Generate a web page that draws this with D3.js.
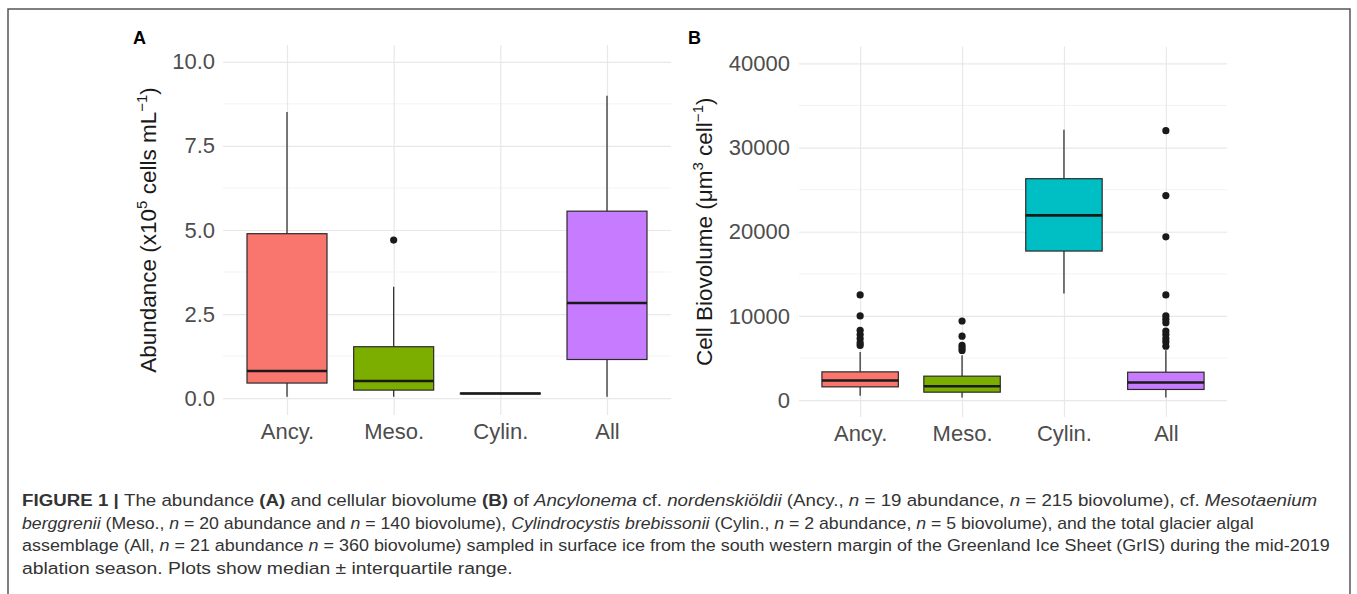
<!DOCTYPE html>
<html lang="en">
<head>
<meta charset="utf-8">
<title>Figure 1 - abundance and biovolume</title>
<style>
  body { margin: 0; background: #fff; }
  svg { display: block; font-family: "Liberation Sans", Arial, sans-serif; }
  .tick text { fill: #4d4d4d; font-size: 22px; }
  .caption { font-size: 17px; fill: #333; }
</style>
</head>
<body>
<svg id="fig" width="1357" height="594"></svg>
<script src="https://d3js.org/d3.v7.min.js"></script>
<script>
// categories and fill colours (ggplot default hue palette)
var categories = ["Ancy.", "Meso.", "Cylin.", "All"];
var fills = ["#F8766D", "#7CAE00", "#00BFC4", "#C77CFF"];

// A: abundance (x10^5 cells mL-1) — whisker low, Q1, median, Q3, whisker high
var abundLow  = [0.04, 0.04, 0.13, 0.04];
var abundQ1   = [0.45, 0.24, 0.13, 1.15];
var abundMed  = [0.81, 0.51, 0.14, 2.83];
var abundQ3   = [4.89, 1.53, 0.15, 5.56];
var abundHigh = [8.51, 3.31, 0.15, 8.99];
var abundOut  = [[], [4.70], [], []];
var abundTicks = [0, 2.5, 5, 7.5, 10];
var abundMinor = [1.25, 3.75, 6.25, 8.75];

// B: cell biovolume (um3 cell-1)
var bioLow  = [510, 320, 12660, 320];
var bioQ1   = [1580, 950, 17710, 1270];
var bioMed  = [2340, 1660, 21950, 2100];
var bioQ3   = [3360, 2850, 26300, 3320];
var bioHigh = [5730, 5340, 32100, 5930];
var bioOut  = [
  [12500, 10000, 8300, 7800, 7300, 6800, 6500],
  [9400, 7600, 6500, 6200, 5900],
  [],
  [32000, 24300, 19400, 12500, 10000, 9600, 9200, 8200, 7800, 7300, 6900, 6400]
];
var bioTicks = [0, 10000, 20000, 30000, 40000];
var bioMinor = [5000, 15000, 25000, 35000];

var svg = d3.select("#fig");

// figure frame
svg.append("rect")
  .attr("x", 8).attr("y", 9).attr("width", 1342).attr("height", 620)
  .attr("fill", "none").attr("stroke", "#555").attr("stroke-width", 1.5);

function panel(opt) {
  var g = svg.append("g");
  var x = d3.scalePoint().domain(categories)
    .range([opt.left, opt.right]).padding(0.6);
  var y = d3.scaleLinear().domain(opt.domain).range([opt.bottom, opt.top]);
  var w = opt.right - opt.left;
  var bw = x.step() * 0.75;

  // minor grid
  g.selectAll(".minor").data(opt.minor).enter().append("line")
    .attr("x1", opt.left).attr("x2", opt.right)
    .attr("y1", d => y(d)).attr("y2", d => y(d))
    .attr("stroke", "#f0f0f0").attr("stroke-width", 0.8);

  // major grid (y)
  g.append("g").attr("transform", "translate(" + opt.left + ",0)")
    .call(d3.axisLeft(y).tickValues(opt.ticks).tickSize(-w).tickFormat(""))
    .call(s => s.select(".domain").remove())
    .call(s => s.selectAll("line").attr("stroke", "#e8e8e8").attr("stroke-width", 1.2));

  // major grid (x)
  g.append("g").attr("transform", "translate(0," + opt.bottom + ")")
    .call(d3.axisBottom(x).tickSize(-(opt.bottom - opt.top)).tickFormat(""))
    .call(s => s.select(".domain").remove())
    .call(s => s.selectAll("line").attr("stroke", "#e8e8e8").attr("stroke-width", 1.2));

  // y tick labels
  g.append("g").attr("transform", "translate(" + opt.left + ",0)")
    .call(d3.axisLeft(y).tickValues(opt.ticks).tickSize(0).tickPadding(opt.pad)
      .tickFormat(opt.fmt))
    .call(s => s.select(".domain").remove())
    .call(s => s.selectAll("text").attr("font-family", "Liberation Sans, Arial, sans-serif"));

  // x tick labels
  g.append("g").attr("transform", "translate(0," + opt.bottom + ")")
    .call(d3.axisBottom(x).tickSize(0).tickPadding(8))
    .call(s => s.select(".domain").remove())
    .call(s => s.selectAll("text").attr("font-family", "Liberation Sans, Arial, sans-serif"));

  var boxes = g.selectAll(".box").data(categories).enter().append("g");

  // whiskers
  boxes.append("line")
    .attr("x1", d => x(d)).attr("x2", d => x(d))
    .attr("y1", (d, i) => y(opt.low[i])).attr("y2", (d, i) => y(opt.q1[i]))
    .attr("stroke", "#333").attr("stroke-width", 1.3);
  boxes.append("line")
    .attr("x1", d => x(d)).attr("x2", d => x(d))
    .attr("y1", (d, i) => y(opt.q3[i])).attr("y2", (d, i) => y(opt.high[i]))
    .attr("stroke", "#333").attr("stroke-width", 1.3);

  // box
  boxes.append("rect")
    .attr("x", d => x(d) - bw / 2).attr("width", bw)
    .attr("y", (d, i) => y(opt.q3[i]))
    .attr("height", (d, i) => y(opt.q1[i]) - y(opt.q3[i]))
    .attr("fill", (d, i) => fills[i])
    .attr("stroke", "#2a2a2a").attr("stroke-width", 1.2);

  // median
  boxes.append("line")
    .attr("x1", d => x(d) - bw / 2).attr("x2", d => x(d) + bw / 2)
    .attr("y1", (d, i) => y(opt.med[i])).attr("y2", (d, i) => y(opt.med[i]))
    .attr("stroke", "#1a1a1a").attr("stroke-width", 2.6);

  // outliers
  boxes.each(function(d, i) {
    d3.select(this).selectAll("circle").data(opt.out[i]).enter().append("circle")
      .attr("cx", x(d)).attr("cy", v => y(v)).attr("r", 3.6)
      .attr("fill", "#1a1a1a");
  });

  // panel letter
  svg.append("text").attr("x", opt.letterX).attr("y", 44)
    .attr("font-size", 18).attr("font-weight", "bold").attr("fill", "#000")
    .text(opt.letter);

  // y title
  var t = svg.append("text")
    .attr("transform", "translate(" + opt.titleX + "," + ((opt.top + opt.bottom) / 2) + ") rotate(-90)")
    .attr("text-anchor", "middle").attr("font-size", 22.5).attr("fill", "#1a1a1a");
  opt.title(t);
}

panel({
  left: 223, right: 671, top: 45, bottom: 415,
  domain: [-0.5, 10.5], ticks: abundTicks, minor: abundMinor,
  fmt: d3.format(".1f"), pad: 8,
  low: abundLow, q1: abundQ1, med: abundMed, q3: abundQ3, high: abundHigh, out: abundOut,
  letter: "A", letterX: 133, titleX: 156,
  title: function(t) {
    t.append("tspan").text("Abundance (x10");
    t.append("tspan").attr("dy", -9).attr("font-size", 15).text("5");
    t.append("tspan").attr("dy", 9).text(" cells mL");
    t.append("tspan").attr("dy", -9).attr("font-size", 15).text("\u22121");
    t.append("tspan").attr("dy", 9).text(")");
  }
});

panel({
  left: 799, right: 1227, top: 46.5, bottom: 417,
  domain: [-2000, 42000], ticks: bioTicks, minor: bioMinor,
  fmt: d3.format("d"), pad: 9,
  low: bioLow, q1: bioQ1, med: bioMed, q3: bioQ3, high: bioHigh, out: bioOut,
  letter: "B", letterX: 688, titleX: 712,
  title: function(t) {
    t.append("tspan").text("Cell Biovolume (\u03bcm");
    t.append("tspan").attr("dy", -9).attr("font-size", 15).text("3");
    t.append("tspan").attr("dy", 9).text(" cell");
    t.append("tspan").attr("dy", -9).attr("font-size", 15).text("\u22121");
    t.append("tspan").attr("dy", 9).text(")");
  }
});

// caption: each line is a list of [text, style] parts
var captionLines = [
  [["FIGURE 1 | ", "b"], ["The abundance ", ""], ["(A)", "b"], [" and cellular biovolume ", ""], ["(B)", "b"],
   [" of ", ""], ["Ancylonema", "i"], [" cf. ", ""], ["nordenskiöldii", "i"], [" (Ancy., ", ""], ["n", "i"],
   [" = 19 abundance, ", ""], ["n", "i"], [" = 215 biovolume), cf. ", ""], ["Mesotaenium", "i"]],
  [["berggrenii", "i"], [" (Meso., ", ""], ["n", "i"], [" = 20 abundance and ", ""], ["n", "i"],
   [" = 140 biovolume), ", ""], ["Cylindrocystis brebissonii", "i"], [" (Cylin., ", ""], ["n", "i"],
   [" = 2 abundance, ", ""], ["n", "i"], [" = 5 biovolume), and the total glacier algal", ""]],
  [["assemblage (All, ", ""], ["n", "i"], [" = 21 abundance ", ""], ["n", "i"],
   [" = 360 biovolume) sampled in surface ice from the south western margin of the Greenland Ice Sheet (GrIS) during the mid-2019", ""]],
  [["ablation season. Plots show median \u00b1 interquartile range.", ""]]
];
// right end of each caption line in the reference (condensed face)
var captionEnds = [1318, 1255, 1330, 513];

captionLines.forEach(function(parts, li) {
  var t = svg.append("text").attr("class", "caption");
  parts.forEach(function(p) {
    t.append("tspan").text(p[0])
      .attr("font-weight", p[1] === "b" ? "bold" : null)
      .attr("font-style", p[1] === "i" ? "italic" : null);
  });
  var natural = t.node().getComputedTextLength();
  var sx = (captionEnds[li] - 22) / natural;
  t.attr("transform", "translate(22," + (506 + li * 22.7) + ") scale(" + sx + ",1)");
});
</script>
</body>
</html>
